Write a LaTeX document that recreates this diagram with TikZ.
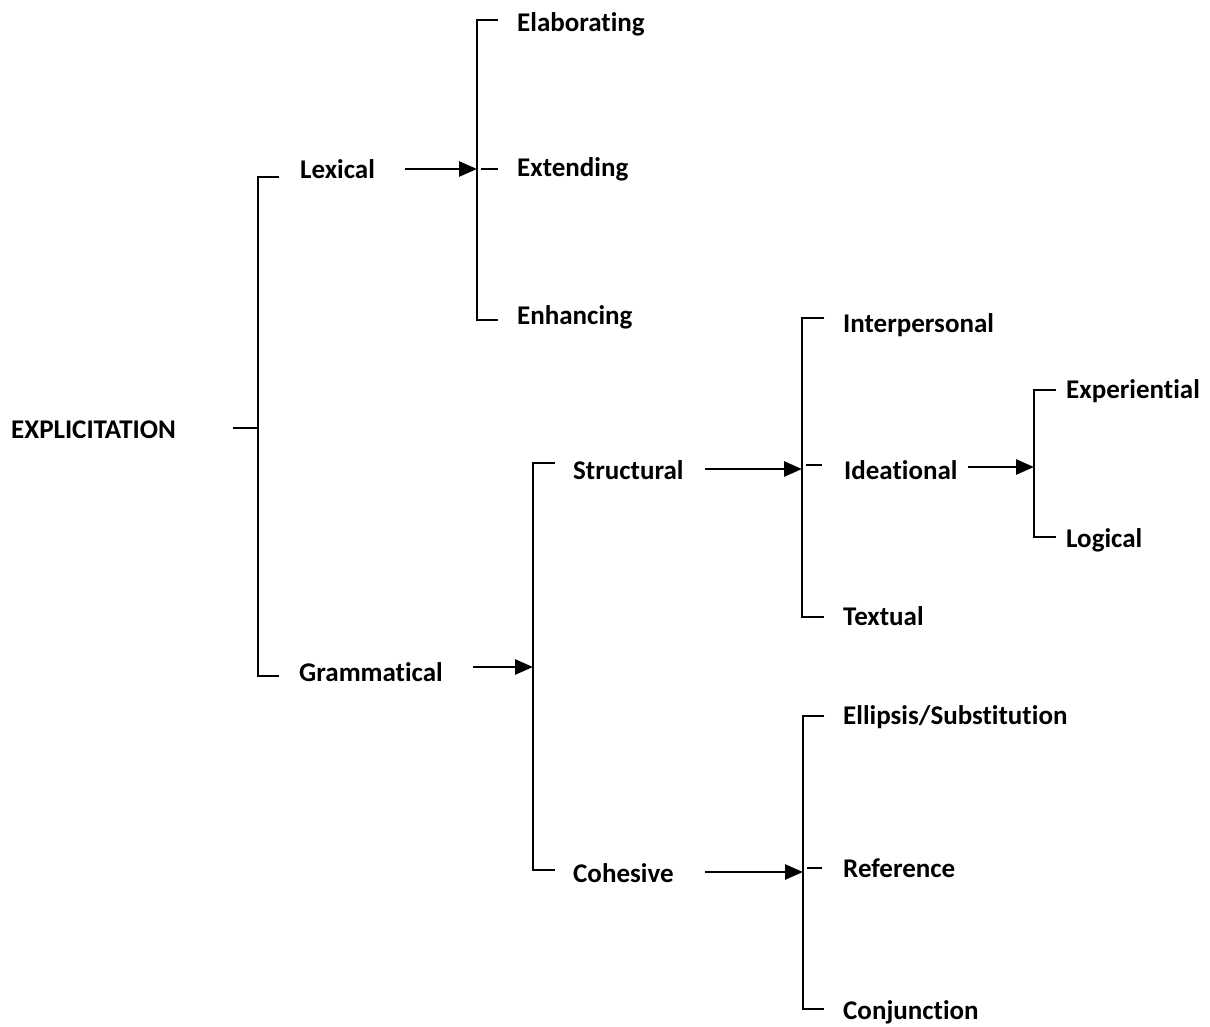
\documentclass[tikz,border=0pt]{standalone}
\usepackage{fontspec}
\setmainfont{Carlito}[Ligatures={NoCommon,NoRare,NoContextual}]
\usetikzlibrary{arrows.meta}
\begin{document}
\begin{tikzpicture}[x=1pt,y=-1pt,
  lbl/.style={anchor=base west,inner sep=0pt,font=\fontsize{27}{32}\selectfont\bfseries},
  brk/.style={line width=2pt},
  arr/.style={line width=2.8pt,-{Triangle[length=18pt,width=15pt]}}]
\useasboundingbox (0,0) rectangle (1210,1027);
% labels
\node[lbl] (expl) at (11,438) {EXPLICITATION};
\node[lbl] (lex) at (300,179) {Lexical};
\node[lbl] (gram) at (299,681) {Grammatical};
\node[lbl] (elab) at (517,32) {Elaborating};
\node[lbl] (ext) at (517,177) {Extending};
\node[lbl] (enh) at (517,324) {Enhancing};
\node[lbl] (str) at (573,479) {Structural};
\node[lbl] (coh) at (573,882) {Cohesive};
\node[lbl] (inter) at (843,332) {Interpersonal};
\node[lbl] (idea) at (844,479) {Ideational};
\node[lbl] (text) at (843,625) {Textual};
\node[lbl] (exper) at (1066,398) {Experiential};
\node[lbl] (logi) at (1066,547) {Logical};
\node[lbl] (ell) at (843,724) {Ellipsis/Substitution};
\node[lbl] (ref) at (843,877) {Reference};
\node[lbl] (conj) at (843,1019) {Conjunction};
% main bracket
\coordinate (m0) at (233,428); \coordinate (mm) at (258,428);
\coordinate (mt) at (258,177); \coordinate (mb) at (258,676);
\coordinate (mtt) at (279,177); \coordinate (mbt) at (279,676);
\draw[brk] (m0) -- (mm);
\draw[brk] (mtt) -- (mt) -- (mb) -- (mbt);
% lexical bracket
\coordinate (la) at (405,169); \coordinate (lm) at (477,169);
\coordinate (lt) at (477,20); \coordinate (lb) at (477,320);
\coordinate (ltt) at (498,20); \coordinate (lbt) at (498,320);
\coordinate (lm1) at (481,169); \coordinate (lm2) at (498,169);
\draw[brk] (ltt) -- (lt) -- (lb) -- (lbt);
\draw[brk] (lm1) -- (lm2);
\draw[arr] (la) -- (lm);
% grammatical bracket
\coordinate (ga) at (473,667); \coordinate (gm) at (533,667);
\coordinate (gt) at (533,463); \coordinate (gb) at (533,870);
\coordinate (gtt) at (555,463); \coordinate (gbt) at (555,870);
\draw[brk] (gtt) -- (gt) -- (gb) -- (gbt);
\draw[arr] (ga) -- (gm);
% structural bracket
\coordinate (sa) at (705,469); \coordinate (sm) at (802,469);
\coordinate (st) at (802,318); \coordinate (sb) at (802,617);
\coordinate (stt) at (824,318); \coordinate (sbt) at (824,617);
\coordinate (sm1) at (806,465); \coordinate (sm2) at (822,465);
\draw[brk] (stt) -- (st) -- (sb) -- (sbt);
\draw[brk] (sm1) -- (sm2);
\draw[arr] (sa) -- (sm);
% ideational bracket
\coordinate (ia) at (968,467); \coordinate (im) at (1034,467);
\coordinate (it) at (1034,390); \coordinate (ib) at (1034,537);
\coordinate (itt) at (1056,390); \coordinate (ibt) at (1056,537);
\draw[brk] (itt) -- (it) -- (ib) -- (ibt);
\draw[arr] (ia) -- (im);
% cohesive bracket
\coordinate (ca) at (705,872); \coordinate (cm) at (803,872);
\coordinate (ct) at (803,716); \coordinate (cb) at (803,1009);
\coordinate (ctt) at (824,716); \coordinate (cbt) at (824,1009);
\coordinate (cm1) at (807,868); \coordinate (cm2) at (822,868);
\draw[brk] (ctt) -- (ct) -- (cb) -- (cbt);
\draw[brk] (cm1) -- (cm2);
\draw[arr] (ca) -- (cm);
\end{tikzpicture}
\end{document}
